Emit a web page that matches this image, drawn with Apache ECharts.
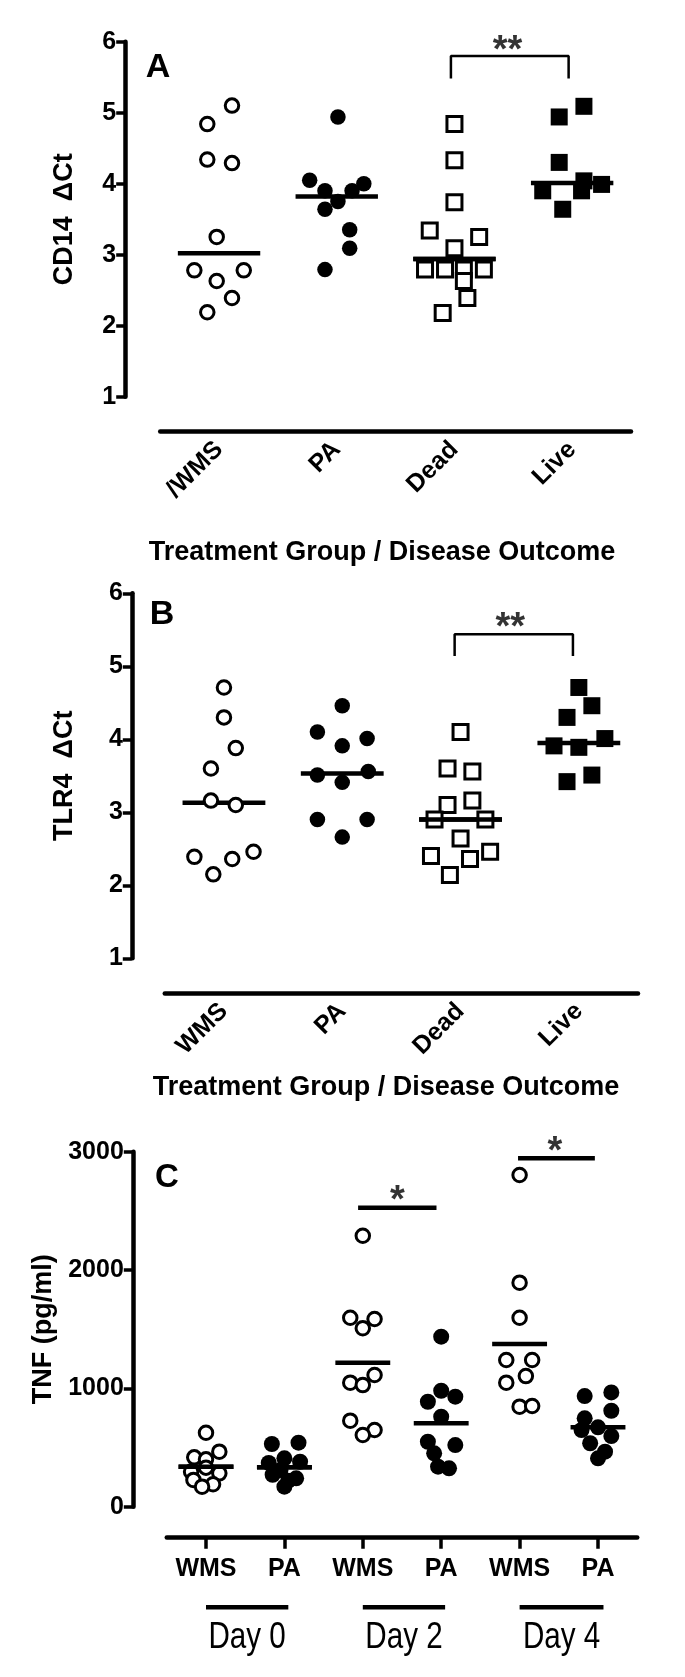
<!DOCTYPE html>
<html><head><meta charset="utf-8">
<script src="https://cdn.jsdelivr.net/npm/echarts@6/dist/echarts.min.js"></script>
<style>html,body{margin:0;padding:0;background:#fff}#c{width:685px;height:1677px}</style>
</head><body><div id="c"></div>
<script>
// ---------- Panel A: CD14 ΔCt ----------
const catsA = ['/WMS', 'PA', 'Dead', 'Live'];
const aWMS  = [5.10, 4.84, 4.34, 4.29, 3.25, 2.78, 2.78, 2.63, 2.39, 2.19];
const aWMSx = [0.11, -0.10, -0.10, 0.11, -0.02, -0.21, 0.21, -0.02, 0.11, -0.10];
const aPA   = [4.94, 4.05, 4.00, 3.90, 3.90, 3.75, 3.64, 3.35, 3.09, 2.79];
const aPAx  = [0.01, -0.23, 0.23, -0.10, 0.13, 0.01, -0.10, 0.11, 0.11, -0.10];
const aDead = [4.84, 4.33, 3.74, 3.34, 3.25, 3.09, 2.79, 2.79, 2.79, 2.79, 2.63, 2.39, 2.18];
const aDeadx= [0, 0, 0, -0.21, 0.21, 0, -0.25, -0.08, 0.08, 0.25, 0.08, 0.11, -0.10];
const aLive = [5.09, 4.94, 4.30, 4.04, 3.99, 3.90, 3.90, 3.64];
const aLivex= [0.10, -0.11, -0.11, 0.10, 0.25, -0.25, 0.08, -0.08];
const aMeans = [3.02, 3.82, 2.94, 4.01];
const aBracket = {from: 1.97, to: 2.97, top: 5.80, bottom: 5.48, starX: 2.45, starY: 5.86, text: '**'};

// ---------- Panel B: TLR4 ΔCt ----------
const catsB = ['WMS', 'PA', 'Dead', 'Live'];
const bWMS  = [4.71, 4.30, 3.88, 3.60, 3.16, 3.10, 2.39, 2.36, 2.46, 2.15];
const bWMSx = [0, 0, 0.10, -0.11, -0.11, 0.10, -0.25, 0.07, 0.25, -0.09];
const bPA   = [4.46, 4.10, 4.01, 3.91, 3.51, 3.56, 3.41, 2.90, 2.90, 2.66];
const bPAx  = [0, -0.21, 0.21, 0, -0.21, 0.22, 0, -0.21, 0.21, 0];
const bDead = [4.10, 3.60, 3.56, 3.10, 3.16, 2.90, 2.90, 2.64, 2.40, 2.36, 2.46, 2.14];
const bDeadx= [0, -0.11, 0.10, -0.11, 0.10, -0.22, 0.21, 0, -0.25, 0.08, 0.25, -0.09];
const bLive = [4.71, 4.46, 4.30, 4.01, 3.91, 3.89, 3.51, 3.42];
const bLivex= [0, 0.11, -0.10, 0.22, -0.21, 0, 0.11, -0.10];
const bMeans = [3.13, 3.53, 2.90, 3.95];
const bBracket = {from: 1.95, to: 2.95, top: 5.44, bottom: 5.14, starX: 2.42, starY: 5.52, text: '**'};

// ---------- Panel C: TNF (pg/ml) ----------
const catsC = ['WMS', 'PA', 'WMS', 'PA', 'WMS', 'PA'];
const daysC = ['Day 0', 'Day 2', 'Day 4'];
const c0W  = [625, 465, 417, 400, 330, 296, 282, 226, 190, 169];
const c0Wx = [0, 0.17, -0.15, 0, 0, -0.19, 0.17, -0.16, 0.09, -0.05];
const c0P  = [530, 541, 409, 370, 380, 310, 270, 240, 220, 169];
const c0Px = [-0.16, 0.18, 0, -0.20, 0.20, -0.05, -0.15, 0.15, 0.05, 0];
const c2W  = [2290, 1597, 1586, 1508, 1113, 1048, 1028, 727, 648, 606];
const c2Wx = [0, -0.16, 0.15, 0, 0.15, -0.16, 0, -0.16, 0.15, 0];
const c2P  = [1437, 980, 930, 887, 761, 549, 521, 451, 338, 324];
const c2Px = [0, 0, 0.18, -0.17, 0, -0.17, 0.18, -0.09, -0.04, 0.10];
const c4W  = [2803, 1893, 1597, 1240, 1240, 1104, 1048, 845, 851];
const c4Wx = [0, 0, 0, -0.17, 0.16, 0.08, -0.17, 0, 0.16];
const c4P  = [935, 966, 811, 747, 671, 648, 597, 536, 465, 409];
const c4Px = [-0.17, 0.17, 0.17, -0.17, 0, -0.21, 0.17, -0.10, 0.09, 0];
const cMeans = [338, 333, 1217, 705, 1375, 671];
const cSig = [
  {from: 1.94, to: 2.94, y: 2527, starX: 2.44, starY: 2575, text: '*'},
  {from: 3.98, to: 4.96, y: 2944, starX: 4.45, starY: 2995, text: '*'}
];
const cGroupBars = [[0, 1.05], [2, 3.05], [4, 5.07]];
const cGroupBarY = -850;
const cDayLabelY = -1108;

// ---------- helpers ----------
const F = '"Liberation Sans", Arial, sans-serif';
const BLACK = '#000';
const pts = (vals, offs, idx) => vals.map((v, i) => [idx + offs[i], v]);

function scatter(g, data, kind, size) {
  const open = kind.startsWith('open');
  const sq = kind.endsWith('Sq');
  return {
    type: 'scatter', xAxisIndex: g.x, yAxisIndex: g.y, clip: false, silent: true, z: 3,
    symbol: sq ? 'rect' : 'circle',
    symbolSize: size,
    itemStyle: open ? {color: '#fff', borderColor: BLACK, borderWidth: 3, opacity: 1}
                    : {color: BLACK, borderWidth: 0, opacity: 1},
    data: data
  };
}
function seg(g, data, width, z) {
  return {type: 'line', xAxisIndex: g.x, yAxisIndex: g.y, clip: false, silent: true,
    symbol: 'none', z: z || 2, lineStyle: {color: BLACK, width: width, cap: 'butt'}, data: data};
}
function star(g, x, y, text, size) {
  return {type: 'scatter', xAxisIndex: g.x, yAxisIndex: g.y, clip: false, silent: true, z: 4,
    symbolSize: 0, data: [{value: [x, y], name: text}],
    label: {show: true, position: 'inside', formatter: '{b}', color: BLACK,
      fontFamily: F, fontWeight: 'bold', fontSize: size || 38}};
}
function meanLines(g, means, half) {
  return means.map((m, i) => seg(g, [[i - half, m], [i + half, m]], 4.5, 2));
}

function yAxis(gi, min, max, interval, offset, name, nameGap) {
  return {gridIndex: gi, type: 'value', min: min, max: max, interval: interval,
    position: 'left', offset: offset,
    axisLine: {show: true, onZero: false, lineStyle: {color: BLACK, width: 4.5}},
    axisTick: {show: true, inside: false, length: 9, lineStyle: {color: BLACK, width: 3.5}},
    axisLabel: {margin: 9, color: BLACK, fontFamily: F, fontWeight: 'bold', fontSize: 25,
      formatter: v => String(v)},
    splitLine: {show: false},
    name: name, nameLocation: 'middle', nameRotate: 90, nameGap: nameGap,
    nameTextStyle: {color: BLACK, fontFamily: F, fontWeight: 'bold', fontSize: 27}};
}
function xValueAxis(gi, max, offset) {
  return {gridIndex: gi, type: 'value', min: -0.5, max: max, position: 'bottom', offset: offset,
    axisLine: {show: true, onZero: false, lineStyle: {color: BLACK, width: 4.5}},
    axisTick: {show: false}, axisLabel: {show: false}, splitLine: {show: false}};
}
function xCatAxis(gi, data, offset, label, tick) {
  return {gridIndex: gi, type: 'category', data: data, position: 'bottom', offset: offset,
    axisLine: {show: false, onZero: false},
    axisTick: tick || {show: false}, splitLine: {show: false},
    axisLabel: Object.assign({interval: 0, color: BLACK, fontFamily: F, fontWeight: 'bold', fontSize: 25}, label)};
}

const gA = {x: 0, y: 0}, gB = {x: 2, y: 1}, gC = {x: 4, y: 2};

const series = [];
// Panel A
series.push(...meanLines(gA, aMeans, 0.35));
series.push(scatter(gA, pts(aWMS, aWMSx, 0), 'openCircle', 13.5));
series.push(scatter(gA, pts(aPA, aPAx, 1), 'fillCircle', 15.5));
series.push(scatter(gA, pts(aDead, aDeadx, 2), 'openSq', 15));
series.push(scatter(gA, pts(aLive, aLivex, 3), 'fillSq', 17));
series.push(seg(gA, [[2 - 0.35, aMeans[2]], [2 + 0.35, aMeans[2]]], 4.5, 5));
series.push(seg(gA, [[aBracket.from, aBracket.bottom], [aBracket.from, aBracket.top], [aBracket.to, aBracket.top], [aBracket.to, aBracket.bottom]], 2.5, 2));
series.push(star(gA, aBracket.starX, aBracket.starY, aBracket.text));
// Panel B
series.push(...meanLines(gB, bMeans, 0.35));
series.push(scatter(gB, pts(bWMS, bWMSx, 0), 'openCircle', 13.5));
series.push(scatter(gB, pts(bPA, bPAx, 1), 'fillCircle', 15.5));
series.push(scatter(gB, pts(bDead, bDeadx, 2), 'openSq', 15));
series.push(scatter(gB, pts(bLive, bLivex, 3), 'fillSq', 17));
series.push(seg(gB, [[2 - 0.35, bMeans[2]], [2 + 0.35, bMeans[2]]], 4.5, 5));
series.push(seg(gB, [[bBracket.from, bBracket.bottom], [bBracket.from, bBracket.top], [bBracket.to, bBracket.top], [bBracket.to, bBracket.bottom]], 2.5, 2));
series.push(star(gB, bBracket.starX, bBracket.starY, bBracket.text));
// Panel C
series.push(...meanLines(gC, cMeans, 0.35));
series.push(scatter(gC, pts(c0W, c0Wx, 0), 'openCircle', 13.5));
series.push(scatter(gC, pts(c0P, c0Px, 1), 'fillCircle', 16));
series.push(scatter(gC, pts(c2W, c2Wx, 2), 'openCircle', 13.5));
series.push(scatter(gC, pts(c2P, c2Px, 3), 'fillCircle', 16));
series.push(scatter(gC, pts(c4W, c4Wx, 4), 'openCircle', 13.5));
series.push(scatter(gC, pts(c4P, c4Px, 5), 'fillCircle', 16));
series.push(seg(gC, [[0 - 0.35, cMeans[0]], [0 + 0.35, cMeans[0]]], 4.5, 5));
series.push(seg(gC, [[1 - 0.35, cMeans[1]], [1 + 0.35, cMeans[1]]], 4.5, 5));
cSig.forEach(s => {
  series.push(seg(gC, [[s.from, s.y], [s.to, s.y]], 4.5, 2));
  series.push(star(gC, s.starX, s.starY, s.text));
});
cGroupBars.forEach(b => series.push(seg(gC, [[b[0], cGroupBarY], [b[1], cGroupBarY]], 4.5, 2)));
// Day group labels (condensed text), centred under each group bar
series.push({type: 'custom', xAxisIndex: gC.x, yAxisIndex: gC.y, clip: false, silent: true, z: 4,
  data: cGroupBars.map((b, i) => [(b[0] + b[1]) / 2, cDayLabelY, i]),
  renderItem: (params, api) => {
    const p = api.coord([api.value(0), api.value(1)]);
    return {type: 'text', x: p[0], y: p[1], scaleX: 0.8, scaleY: 1,
      style: {text: daysC[api.value(2)], fill: BLACK, font: 'normal 37px ' + F,
        align: 'center', verticalAlign: 'middle'}};
  }});

const txt = (t, x, y, size) => ({type: 'text', x: x, y: y, silent: true,
  style: {text: t, fill: BLACK, font: 'bold ' + size + 'px ' + F, align: 'center', verticalAlign: 'middle'}});

const option = {
  animation: false,
  backgroundColor: '#fff',
  grid: [
    {left: 160.2, top: 41.7, width: 470.8, height: 355, containLabel: false, outerBoundsMode: 'none'},
    {left: 164.8, top: 593.3, width: 473.2, height: 365, containLabel: false, outerBoundsMode: 'none'},
    {left: 166.8, top: 1151.7, width: 470.4, height: 355, containLabel: false, outerBoundsMode: 'none'}
  ],
  xAxis: [
    xValueAxis(0, 3.5, 35),
    xCatAxis(0, catsA, 35, {rotate: 45, margin: 14}),
    xValueAxis(1, 3.5, 35),
    xCatAxis(1, catsB, 35, {rotate: 45, margin: 14}),
    xValueAxis(2, 5.5, 31),
    xCatAxis(2, catsC, 31, {margin: 19},
      {show: true, alignWithLabel: true, length: 11, lineStyle: {color: BLACK, width: 3.5}})
  ],
  yAxis: [
    yAxis(0, 1, 6, 1, 35, 'CD14  \u0394Ct', 47),
    yAxis(1, 1, 6, 1, 33, 'TLR4  \u0394Ct', 54),
    yAxis(2, 0, 3000, 1000, 34, 'TNF (pg/ml)', 65)
  ],
  graphic: [
    txt('A', 158, 68, 34),
    txt('B', 162, 615, 34),
    txt('C', 167, 1178, 33),
    txt('Treatment Group / Disease Outcome', 382, 553, 27),
    txt('Treatment Group / Disease Outcome', 386, 1088, 27)
  ],
  series: series
};

const chart = echarts.init(document.getElementById('c'), null, {renderer: 'canvas', width: 685, height: 1677});
chart.setOption(option);
</script>
</body></html>
